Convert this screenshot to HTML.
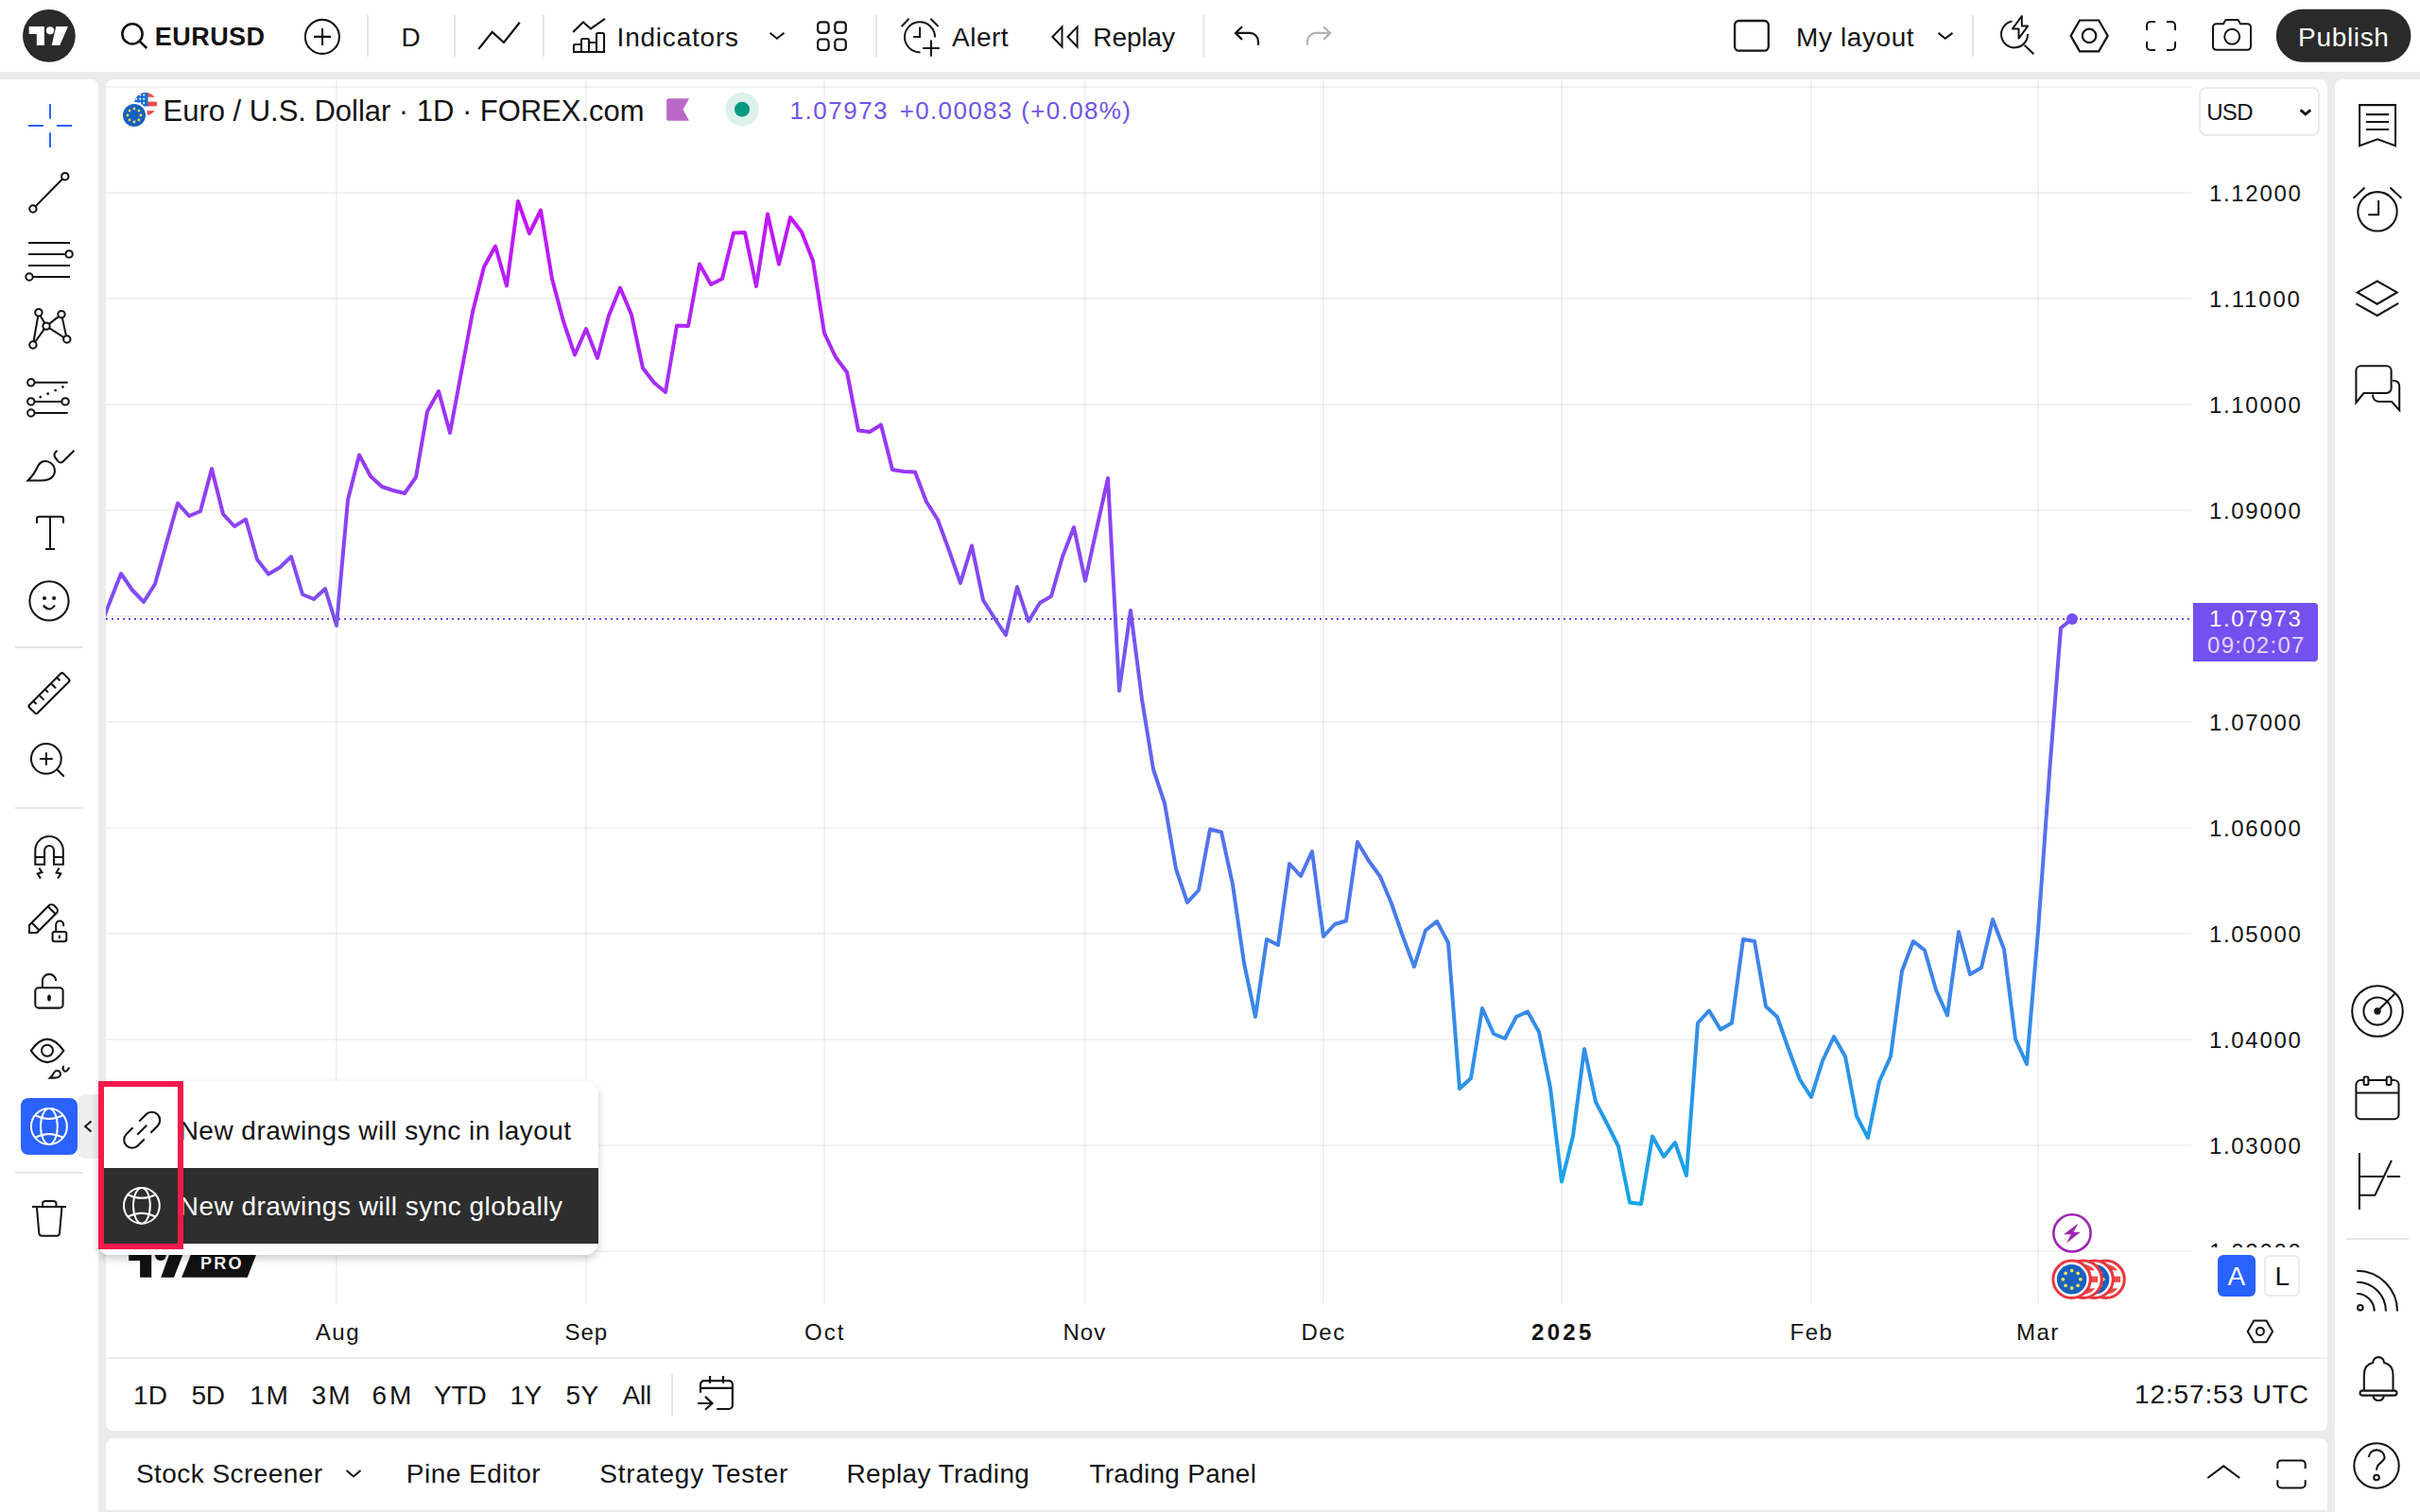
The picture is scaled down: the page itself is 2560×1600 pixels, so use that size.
<!DOCTYPE html>
<html lang="en"><head><meta charset="utf-8"><title>EURUSD chart</title>
<style>
html,body{margin:0;padding:0;}
body{width:2560px;height:1600px;overflow:hidden;background:#EBEBEB;position:relative;font-family:"Liberation Sans",sans-serif;}
.abs{position:absolute;}
.t{position:absolute;white-space:nowrap;line-height:1;}
svg{position:absolute;overflow:visible;}
#top{left:0;top:0;width:2560px;height:76px;background:#fff;}
#left{left:0;top:84px;width:104px;height:1516px;background:#fff;border-top-right-radius:8px;}
#right{left:2470px;top:84px;width:90px;height:1516px;background:#fff;border-top-left-radius:8px;}
#chart{left:112px;top:84px;width:2350px;height:1430px;background:#fff;border-radius:8px;}
#bottom{left:112px;top:1522px;width:2350px;height:76px;background:#fff;border-radius:8px 8px 0 0;}
.sep{position:absolute;background:#E6E6E6;}
#popup{left:104px;top:1144px;width:529px;height:184px;background:#fff;border-radius:12px 14px 14px 12px;box-shadow:0 4px 8px rgba(0,0,0,0.2);z-index:20;}
#popup .row2{position:absolute;left:0;top:92px;width:529px;height:80px;background:#2E2E2E;}
#redbox{left:104px;top:1144px;width:90px;height:178px;box-sizing:border-box;border:6px solid #F5184A;z-index:32;}
</style></head><body>
<div class="abs" id="top"></div>
<div class="abs" id="left"></div>
<div class="abs" id="right"></div>
<div class="abs" id="chart"></div>
<div class="abs" id="bottom"></div>

<!-- chart drawing -->
<svg id="chartsvg" width="2560" height="1600" viewBox="0 0 2560 1600" style="left:0;top:0;">
<defs>
<linearGradient id="lg" gradientUnits="userSpaceOnUse" x1="0" y1="213" x2="0" y2="1274">
<stop offset="0" stop-color="#C414FC"/><stop offset="1" stop-color="#15A6E6"/>
</linearGradient>
<clipPath id="cp"><rect x="112" y="84" width="2206" height="1296"/></clipPath>
</defs>
<rect x="112" y="91" width="2206" height="2" fill="rgba(0,0,0,0.052)"/><rect x="112" y="203" width="2206" height="2" fill="rgba(0,0,0,0.052)"/><rect x="112" y="315" width="2206" height="2" fill="rgba(0,0,0,0.052)"/><rect x="112" y="427" width="2206" height="2" fill="rgba(0,0,0,0.052)"/><rect x="112" y="539" width="2206" height="2" fill="rgba(0,0,0,0.052)"/><rect x="112" y="651" width="2206" height="2" fill="rgba(0,0,0,0.052)"/><rect x="112" y="763" width="2206" height="2" fill="rgba(0,0,0,0.052)"/><rect x="112" y="875" width="2206" height="2" fill="rgba(0,0,0,0.052)"/><rect x="112" y="987" width="2206" height="2" fill="rgba(0,0,0,0.052)"/><rect x="112" y="1099" width="2206" height="2" fill="rgba(0,0,0,0.052)"/><rect x="112" y="1211" width="2206" height="2" fill="rgba(0,0,0,0.052)"/><rect x="112" y="1323" width="2206" height="2" fill="rgba(0,0,0,0.052)"/><rect x="355" y="84" width="2" height="1296" fill="rgba(0,0,0,0.052)"/><rect x="619" y="84" width="2" height="1296" fill="rgba(0,0,0,0.052)"/><rect x="871" y="84" width="2" height="1296" fill="rgba(0,0,0,0.052)"/><rect x="1147" y="84" width="2" height="1296" fill="rgba(0,0,0,0.052)"/><rect x="1399" y="84" width="2" height="1296" fill="rgba(0,0,0,0.052)"/><rect x="1651" y="84" width="2" height="1296" fill="rgba(0,0,0,0.052)"/><rect x="1915" y="84" width="2" height="1296" fill="rgba(0,0,0,0.052)"/><rect x="2155" y="84" width="2" height="1296" fill="rgba(0,0,0,0.052)"/>
<rect x="112" y="1436" width="2350" height="2" fill="#EDEDED"/>
<g clip-path="url(#cp)">
<path d="M104 668.75 L116 637.5 L128 607 L140 624.5 L152 637 L164 618 L176 575 L188 532.5 L200 546 L212 541 L224 496 L236 544 L248 557 L260 549.5 L272 592 L284 607.5 L296 600.5 L308 589 L320 629 L332 634 L344 623 L356 662 L368 529 L380 481.5 L392 504 L404 515 L416 519 L428 522 L440 505 L452 435.5 L464 414 L476 458 L488 394 L500 330 L512 282.5 L524 260.5 L536 302.5 L548 213 L560 247 L572 222.5 L584 295 L596 340 L608 375.5 L620 348 L632 379 L644 334 L656 304.5 L668 333 L680 389.5 L692 405 L704 415 L716 344.5 L728 345 L740 279.5 L752 301 L764 295 L776 246.5 L788 246 L800 303 L812 226.5 L824 279.5 L836 230 L848 245.5 L860 276 L872 352.5 L884 378 L896 394 L908 455.5 L920 457 L932 449.5 L944 497 L956 499 L968 499.5 L980 531 L992 550 L1004 582.5 L1016 617 L1028 577.5 L1040 635 L1052 654 L1064 672 L1076 621 L1088 657.5 L1100 638 L1112 631 L1124 589 L1136 558 L1148 614.5 L1160 560 L1172 506 L1184 731 L1196 646 L1208 740 L1220 814 L1232 850 L1244 919.5 L1256 955 L1268 942 L1280 877.5 L1292 880.5 L1304 936 L1316 1019 L1328 1076 L1340 994 L1352 1000 L1364 914 L1376 927 L1388 901 L1400 991 L1412 978 L1424 974.5 L1436 891 L1448 911 L1460 927.5 L1472 956 L1484 991 L1496 1023 L1508 984.5 L1520 975 L1532 997.5 L1544 1152 L1556 1141 L1568 1067 L1580 1094 L1592 1099 L1604 1076 L1616 1070.5 L1628 1092 L1640 1151 L1652 1250.5 L1664 1202 L1676 1110 L1688 1166 L1700 1189 L1712 1213 L1724 1272.5 L1736 1274 L1748 1202.5 L1760 1224 L1772 1209 L1784 1244 L1796 1082.5 L1808 1069.5 L1820 1089.5 L1832 1082.5 L1844 994 L1856 996 L1868 1065 L1880 1076 L1892 1110 L1904 1142.5 L1916 1161 L1928 1122.5 L1940 1097 L1952 1118 L1964 1181 L1976 1204 L1988 1144.5 L2000 1118 L2012 1027.5 L2024 996 L2036 1005.5 L2048 1047.5 L2060 1074.5 L2072 986 L2084 1031 L2096 1024 L2108 973 L2120 1004.5 L2132 1099.5 L2144 1126 L2156 985 L2168 818 L2180 664.5 L2192 655" fill="none" stroke="url(#lg)" stroke-width="4" stroke-linejoin="round" stroke-linecap="round"/>
</g>
<line x1="112" y1="655" x2="2320" y2="655" stroke="#6B4EE6" stroke-width="2" stroke-dasharray="2 4"/>
<circle cx="2192" cy="655" r="6" fill="#7450EE"/>
</svg>

<!-- price axis cover + label -->
<div class="abs" style="left:2320px;top:1320px;width:142px;height:60px;background:#fff;z-index:2;"></div>
<div class="abs" style="left:2320px;top:638px;width:132px;height:62px;background:#7450EE;border-radius:0 4px 4px 0;z-index:2;"></div>
<div class="abs" style="left:2326px;top:92px;width:128px;height:52px;border:2px solid #EBEBEB;border-radius:8px;box-sizing:border-box;background:#fff;"></div>
<div class="abs" style="left:2346px;top:1328px;width:40px;height:44px;background:#2962FF;border-radius:6px;z-index:2;"></div>
<div class="abs" style="left:2395px;top:1328px;width:38px;height:44px;background:#fff;border:2px solid #EBEBEB;box-sizing:border-box;border-radius:6px;z-index:2;"></div>

<svg style="left:0px;top:0px;" width="2560" height="76" viewBox="0 0 2560 76"><circle cx="51.9" cy="37.9" r="27.9" fill="#2A2A2A"/><path d="M30.7 27.9H46.9V48H38.8V36.1H30.7Z" fill="#fff"/><circle cx="53" cy="32.3" r="4.1" fill="#fff"/><path d="M59.3 27.9H71.9L63.3 48H54.7Z" fill="#fff"/><g fill="none" stroke="#131313" stroke-width="2.6" ><circle cx="140" cy="35.9" r="10.6"/><path d="M147.6 43.6L155.3 51"/></g><g fill="none" stroke="#131313" stroke-width="2.1" ><circle cx="340.9" cy="38.9" r="18"/><path d="M332 38.9H350M341 30V47.9"/></g><rect x="388" y="16" width="2" height="44" fill="#E6E6E6"/><rect x="480" y="16" width="2" height="44" fill="#E6E6E6"/><rect x="574" y="16" width="2" height="44" fill="#E6E6E6"/><rect x="926" y="16" width="2" height="44" fill="#E6E6E6"/><rect x="1272.3" y="16" width="2" height="44" fill="#E6E6E6"/><rect x="2086" y="16" width="2" height="44" fill="#E6E6E6"/><g fill="none" stroke="#131313" stroke-width="2.2" stroke-linejoin="miter"><path d="M506.2 51.9L520.7 33.9L533 45L549.8 23.8"/></g><g fill="none" stroke="#131313" stroke-width="2.1" ><path d="M606.2 33.9L616.9 23.5L624.9 30.4L639.9 19.9"/><path d="M607 55V48.5A1.5 1.5 0 0 1 608.5 47H615V42.5A1.5 1.5 0 0 1 616.5 41H621.5A1.5 1.5 0 0 1 623 42.5V45H631V36.5A1.5 1.5 0 0 1 632.5 35H637.5A1.5 1.5 0 0 1 639 36.5V55ZM615 47V55M623 45V55M631 45V55"/></g><g fill="none" stroke="#131313" stroke-width="2.05" ><path d="M814.5 34.7L821.9 40.8L829.5 34.7"/></g><g fill="none" stroke="#131313" stroke-width="2.2" ><rect x="865.1" y="23.3" width="11.5" height="11.5" rx="3.2"/><rect x="865.1" y="41.5" width="11.5" height="11.5" rx="3.2"/><rect x="883.3" y="23.3" width="11.5" height="11.5" rx="3.2"/><rect x="883.3" y="41.5" width="11.5" height="11.5" rx="3.2"/></g><g fill="none" stroke="#131313" stroke-width="2" ><path d="M989 39.5A16 16 0 1 0 973.5 55.3"/><path d="M973.1 28.4V39.1H966.1"/><path d="M953.7 28L961.6 19.7M984.3 19.7L992.6 28"/><path d="M976.2 51.1H993.8M985 42.4V59.8"/></g><g fill="none" stroke="#131313" stroke-width="2" stroke-linejoin="miter"><path d="M1113.4 38.95L1123.5 28.4V49.5ZM1129.5 38.95L1139.6 28.4V49.5Z"/></g><g fill="none" stroke="#131313" stroke-width="2.2" ><path d="M1314 28.2L1307 34.9L1314 41.9M1307.5 34.9H1322A9 9 0 0 1 1331 43.9V47.7"/></g><g fill="none" stroke="#B2B2B2" stroke-width="2.2" ><path d="M1400.2 28.2L1407.2 34.9L1400.2 41.9M1406.7 34.9H1392A9 9 0 0 0 1383 43.9V47.7"/></g><g fill="none" stroke="#131313" stroke-width="2.3" ><rect x="1835.1" y="22" width="35.7" height="31.7" rx="4.5"/></g><g fill="none" stroke="#131313" stroke-width="2.05" ><path d="M2050.5 34.9L2057.7 40.8L2065.5 34.9"/></g><g fill="none" stroke="#131313" stroke-width="2" ><path d="M2128.5 22.6A14 14 0 1 0 2145 36"/><path d="M2141.4 47.6L2151.4 57.2"/><path d="M2138.8 17L2129 30.4H2135.5V40.6L2145.2 27.6H2138.8Z" stroke-linejoin="round"/></g><g fill="none" stroke="#131313" stroke-width="2.2" ><path d="M2190.6 37.9L2200 21.5H2220.2L2229.7 37.9L2220.2 54.3H2200Z"/><circle cx="2210.1" cy="37.9" r="7.2"/></g><g fill="none" stroke="#131313" stroke-width="2" ><path d="M2271 32V27A4 4 0 0 1 2275 23H2280M2292 23H2297A4 4 0 0 1 2301 27V32M2301 44V49A4 4 0 0 1 2297 53H2292M2280 53H2275A4 4 0 0 1 2271 49V44"/></g><g fill="none" stroke="#131313" stroke-width="2" ><path d="M2344.5 25.2H2352L2354 21.8A1.6 1.6 0 0 1 2355.4 21H2366.6A1.6 1.6 0 0 1 2368 21.8L2370 25.2H2377.5A3.5 3.5 0 0 1 2381 28.7V49.2A3.5 3.5 0 0 1 2377.5 52.7H2344.5A3.5 3.5 0 0 1 2341 49.2V28.7A3.5 3.5 0 0 1 2344.5 25.2Z"/><circle cx="2361.2" cy="38.8" r="8"/></g><rect x="2407.8" y="9.8" width="142.6" height="56" rx="28" fill="#2A2A2A"/></svg>
<svg style="left:0px;top:84px;" width="112" height="1516" viewBox="0 84 112 1516"><g fill="none" stroke="#2962FF" stroke-width="2" ><path d="M53 110V125.8M53 140.3V156M30 133H46M60 133H76"/></g><g fill="none" stroke="#131313" stroke-width="2.05" ><circle cx="68.8" cy="186.7" r="3.7"/><circle cx="34.9" cy="221" r="3.7"/><path d="M37.5 218.4L66.2 189.3"/></g><g fill="none" stroke="#131313" stroke-width="2.05" ><path d="M30 256.9H74M30 268.9H69.4M30 280.9H74M34.7 293H74"/><circle cx="73.1" cy="268.9" r="3.7" fill="#fff"/><circle cx="31" cy="293" r="3.7" fill="#fff"/></g><g fill="none" stroke="#131313" stroke-width="2.05" ><path d="M40.9 330.7L34.9 365L49 345.1ZM49 345.1L65 332.6L70.8 359Z"/><circle cx="40.9" cy="330.7" r="3.7" fill="#fff"/><circle cx="65" cy="332.6" r="3.7" fill="#fff"/><circle cx="49" cy="345.1" r="3.7" fill="#fff"/><circle cx="70.8" cy="359" r="3.7" fill="#fff"/><circle cx="34.9" cy="365" r="3.7" fill="#fff"/></g><g fill="none" stroke="#131313" stroke-width="2.05" ><path d="M36.5 404.8H71.7M36.5 424.9H65.4M36.5 437H71.7"/><path d="M41.6 420.6L67.6 409" stroke-dasharray="2.4 6.3" stroke-width="2.4"/><circle cx="32.8" cy="404.8" r="3.7" fill="#fff"/><circle cx="32.8" cy="424.9" r="3.7" fill="#fff"/><circle cx="69.1" cy="424.9" r="3.7" fill="#fff"/><circle cx="32.8" cy="437" r="3.7" fill="#fff"/></g><g fill="none" stroke="#131313" stroke-width="2.05" ><path d="M29.5 508.5C35 503 38 498 40 493.5C42.5 488 48.5 486.5 53 489.5C58.5 493 59.5 500 55.5 504.5C52 508.5 47 508.5 43 508.5Z" stroke-linejoin="miter"/><path d="M60.6 476.8C57.2 479 56.6 482 58.6 484.5L61.5 488.2C63 490 65 490 66.5 488.5L78.5 476.8"/></g><g fill="none" stroke="#131313" stroke-width="2.05" ><path d="M39 553.7V549A2.2 2.2 0 0 1 41.2 546.8H64.8A2.2 2.2 0 0 1 67 549V553.7M53 546.8V581M48.1 581H58"/></g><g fill="none" stroke="#131313" stroke-width="2.05" ><circle cx="52" cy="635.9" r="20.6"/><path d="M45.8 640.5Q52 648.5 58.1 640.5"/><circle cx="47" cy="632.9" r="2" fill="#131313" stroke="none"/><circle cx="57.1" cy="632.9" r="2" fill="#131313" stroke="none"/></g><rect x="16" y="684" width="72" height="2" fill="#E6E6E6"/><g fill="none" stroke="#131313" stroke-width="2.05" ><g transform="translate(52 733.7) rotate(-45)"><rect x="-25.4" y="-6.1" width="50.8" height="12.2" rx="2"/><path d="M-17.6 -6.1V-1.5M-8.8 -6.1V1M0 -6.1V-1.5M8.8 -6.1V1M17.6 -6.1V-1.5"/></g></g><g fill="none" stroke="#131313" stroke-width="2.05" ><circle cx="48.85" cy="802.9" r="15.9"/><path d="M42.1 802.9H55.8M48.9 796.2V809.7M60.3 814.3L67.8 821.7"/></g><rect x="16" y="854" width="72" height="2" fill="#E6E6E6"/><g fill="none" stroke="#131313" stroke-width="2.05" ><path d="M37.3 914.8V899.8A14.75 14.75 0 0 1 66.8 899.8V914.8H57V900A4.95 4.95 0 0 0 47.1 900V914.8ZM37.3 906.9H47.1M57 906.9H66.8" stroke-linejoin="miter"/><path d="M41.4 918.5L44.4 923.1L39.8 924.5L43 929.6M62.5 918.5L59.7 923.6L64.3 924.5L61.1 929.6" stroke-linejoin="miter"/></g><g fill="none" stroke="#131313" stroke-width="2.05" ><g transform="translate(31 987) rotate(-45)"><path d="M0 0L5.65 -5.65H34.9A4 4 0 0 1 38.9 -1.65V1.65A4 4 0 0 1 34.9 5.65H5.65ZM9.3 -5.65V5.65M33.6 -5.65V5.65" stroke-linejoin="miter"/></g><rect x="55.6" y="985.9" width="14.7" height="10.3" rx="2.2"/><path d="M59.2 985.5V978.5A4 4 0 0 1 67.2 978.5V980.2M62.9 989.8V993.2"/></g><g fill="none" stroke="#131313" stroke-width="2.05" ><rect x="37.3" y="1045.2" width="29.3" height="21.4" rx="3.6"/><path d="M44.9 1045V1038A7.15 7.15 0 0 1 59.2 1038"/><ellipse cx="52" cy="1056" rx="1.9" ry="3.6" fill="#131313" stroke="none"/></g><g fill="none" stroke="#131313" stroke-width="2.05" ><path d="M32.8 1111.8Q50 1087.4 67.3 1111.8Q50 1136.4 32.8 1111.8Z" stroke-linejoin="miter"/><circle cx="50" cy="1111.8" r="6"/><path d="M53 1140.6C56 1138 56.5 1136 57.5 1134.5C59 1132.5 61.5 1132.5 63 1134C64.5 1135.6 64.3 1138 62.5 1139.5C61 1140.6 59 1140.6 57 1140.6Z" stroke-linejoin="miter"/><path d="M67.6 1127.9C66 1129.5 66.5 1131.5 67.6 1132.8C68.6 1134 69.8 1134 70.8 1132.8L73.6 1129.6"/></g><rect x="82" y="1158" width="30" height="68" rx="8" fill="#EFEFEF"/><rect x="22" y="1162" width="60" height="60" rx="8" fill="#2962FF"/><g fill="none" stroke="#fff" stroke-width="2" ><circle cx="51.9" cy="1191.9" r="19"/><ellipse cx="51.9" cy="1191.9" rx="8.9" ry="19"/><path d="M37.0 1180.1 Q51.9 1187.7 66.8 1180.1"/><path d="M37.0 1203.7 Q51.9 1196.1 66.8 1203.7"/></g><g fill="none" stroke="#131313" stroke-width="2.05" ><path d="M96.5 1186.5L90.1 1191.9L96.5 1197.5"/></g><rect x="16" y="1240" width="72" height="2" fill="#E6E6E6"/><g fill="none" stroke="#131313" stroke-width="2.05" ><path d="M34 1277H70M45 1277V1274A3 3 0 0 1 48 1271H56.5A3 3 0 0 1 59.5 1274V1277M38.9 1277L41.3 1305A3 3 0 0 0 44.3 1307.7H60A3 3 0 0 0 63 1305L65.5 1277"/></g></svg>
<svg style="left:2470px;top:84px;" width="90" height="1516" viewBox="2470 84 90 1516"><g fill="none" stroke="#131313" stroke-width="2.05" ><path d="M2496.1 111.1H2534V154.2L2515 147.4L2496.1 154.2ZM2503 121.1H2527M2503 129H2527M2503 137H2527" stroke-linejoin="miter"/></g><g fill="none" stroke="#131313" stroke-width="2.05" ><circle cx="2515" cy="223.8" r="20.7"/><path d="M2516.1 211.9V227.2H2505.2M2489.6 209.8L2501.5 198.4M2528.4 198.4L2540.4 209.8"/></g><g fill="none" stroke="#131313" stroke-width="2.05" ><path d="M2514.7 297.5L2535.7 309.4L2514.7 321.7L2493.7 309.4ZM2492.2 321.3L2514.7 334L2537.2 320.9" stroke-linejoin="miter"/></g><g fill="none" stroke="#131313" stroke-width="2.05" ><path d="M2510 417.6C2510 422 2512.5 425 2516.5 425H2530L2538.2 434V409C2538.2 405 2535.5 402.8 2531 402.8"/><path d="M2492.4 426V392.3A5 5 0 0 1 2497.4 387.3H2524.6A5 5 0 0 1 2529.6 392.3V411A5 5 0 0 1 2524.6 416H2500.5Z" fill="#fff" stroke-linejoin="miter"/></g><g fill="none" stroke="#131313" stroke-width="2.05" ><circle cx="2515" cy="1070" r="26.8"/><circle cx="2515" cy="1070" r="14.6"/><path d="M2515 1070L2534.3 1050.6"/><circle cx="2515" cy="1070" r="3.7" fill="#131313" stroke="none"/></g><g fill="none" stroke="#131313" stroke-width="2.05" ><rect x="2492.4" y="1143" width="45.1" height="41.3" rx="5"/><path d="M2492.4 1156.5H2537.5"/><rect x="2500.6" y="1139.5" width="4.8" height="8.5" rx="1.2" fill="#fff"/><rect x="2524.7" y="1139.5" width="4.8" height="8.5" rx="1.2" fill="#fff"/></g><g fill="none" stroke="#131313" stroke-width="2.05" ><path d="M2495.9 1220.1V1280M2496 1245H2521M2525 1245H2539.1M2496 1264.8H2512.4L2529.9 1228"/></g><rect x="2482" y="1310" width="66" height="2" fill="#E6E6E6"/><g fill="none" stroke="#131313" stroke-width="2.05" ><circle cx="2496.8" cy="1383.8" r="2.8"/><path d="M2493.2 1369A18.5 18.5 0 0 1 2511.7 1387.5M2493.2 1356.8A30.7 30.7 0 0 1 2523.9 1387.5M2493.2 1344.7A42.8 42.8 0 0 1 2536 1387.5"/></g><g fill="none" stroke="#131313" stroke-width="2.05" ><path d="M2500.8 1471.5V1455C2500.8 1447 2505 1443.2 2510.2 1442A5.9 5.9 0 0 1 2522 1442C2527.2 1443.2 2531.5 1447 2531.5 1455V1471.5"/><rect x="2496.5" y="1471.6" width="39" height="5" rx="2.5"/><path d="M2510.5 1477.5A5.8 5.8 0 0 0 2521.8 1477.5"/></g><g fill="none" stroke="#131313" stroke-width="2.05" ><circle cx="2514" cy="1551" r="23.7"/><path d="M2505.7 1541.9A8.5 8.5 0 0 1 2522.6 1542C2522.6 1547.5 2514 1547.5 2514 1555.7"/><circle cx="2514" cy="1563.5" r="2.8"/></g></svg>
<svg style="left:0px;top:0px;z-index:5;" width="2560" height="1600" viewBox="0 0 2560 1600"><clipPath id="cu0"><circle cx="154" cy="110" r="12"/></clipPath><g clip-path="url(#cu0)"><rect x="142" y="98" width="24" height="24" fill="#fff"/><rect x="142" y="98.0" width="24" height="4.8" fill="#EF4B47"/><rect x="142" y="107.6" width="24" height="4.8" fill="#EF4B47"/><rect x="142" y="117.2" width="24" height="4.8" fill="#EF4B47"/><rect x="142" y="98" width="14.6" height="14.4" fill="#1D6FD1"/><circle cx="144.2" cy="100.4" r="1" fill="#fff"/><circle cx="144.2" cy="104.7" r="1" fill="#fff"/><circle cx="144.2" cy="109.0" r="1" fill="#fff"/><circle cx="148.2" cy="100.4" r="1" fill="#fff"/><circle cx="148.2" cy="104.7" r="1" fill="#fff"/><circle cx="148.2" cy="109.0" r="1" fill="#fff"/><circle cx="152.2" cy="100.4" r="1" fill="#fff"/><circle cx="152.2" cy="104.7" r="1" fill="#fff"/><circle cx="152.2" cy="109.0" r="1" fill="#fff"/></g><circle cx="142" cy="122" r="14" fill="#fff"/><circle cx="142" cy="122" r="12" fill="#1A60BF"/><circle cx="142.0" cy="115.0" r="1.4" fill="#F3E15A"/><circle cx="146.9" cy="117.1" r="1.4" fill="#F3E15A"/><circle cx="149.0" cy="122.0" r="1.4" fill="#F3E15A"/><circle cx="146.9" cy="126.9" r="1.4" fill="#F3E15A"/><circle cx="142.0" cy="129.0" r="1.4" fill="#F3E15A"/><circle cx="137.1" cy="126.9" r="1.4" fill="#F3E15A"/><circle cx="135.0" cy="122.0" r="1.4" fill="#F3E15A"/><circle cx="137.1" cy="117.1" r="1.4" fill="#F3E15A"/><path d="M707 104.3H729L722.5 116L729 127.8H707A1.8 1.8 0 0 1 705.2 126V106.1A1.8 1.8 0 0 1 707 104.3Z" fill="#BA68C8"/><circle cx="785" cy="115.7" r="17.7" fill="#DDF1EC"/><circle cx="785" cy="115.7" r="8" fill="#089981"/><g fill="none" stroke="#131313" stroke-width="2.8" ><path d="M2433.6 116.4L2438.9 120.9L2444.2 116.4"/></g><path d="M136.2 1321.8H160.2V1351.8H148.1V1334H136.2Z" fill="#111"/><circle cx="169.9" cy="1327.9" r="6" fill="#111"/><path d="M181.2 1321.8H195.7L184 1351.8H170.2Z" fill="#111"/><path d="M204.2 1321.8H273.4L261.7 1351.8H192.2Z" fill="#111"/><circle cx="2192" cy="1304.9" r="19.6" fill="#fff" stroke="#9C27B0" stroke-width="2.6"/><path d="M2198.5 1294.5L2183 1306.2H2190.8L2186 1315.5L2201 1303.8H2193.4Z" fill="#9C27B0"/><circle cx="2227.6" cy="1353.8" r="19.7" fill="#fff" stroke="#E9353F" stroke-width="3"/><clipPath id="cf0"><circle cx="2227.6" cy="1353.8" r="15.8"/></clipPath><g clip-path="url(#cf0)"><rect x="2211.7999999999997" y="1338.0" width="31.6" height="31.6" fill="#fff"/><rect x="2211.7999999999997" y="1338.0" width="31.6" height="6.3" fill="#EF4B47"/><rect x="2211.7999999999997" y="1350.6" width="31.6" height="6.3" fill="#EF4B47"/><rect x="2211.7999999999997" y="1363.3" width="31.6" height="6.3" fill="#EF4B47"/><rect x="2211.7999999999997" y="1338.0" width="19.3" height="19.0" fill="#1D6FD1"/><circle cx="2214.0" cy="1340.4" r="1" fill="#fff"/><circle cx="2214.0" cy="1344.7" r="1" fill="#fff"/><circle cx="2214.0" cy="1349.0" r="1" fill="#fff"/><circle cx="2218.0" cy="1340.4" r="1" fill="#fff"/><circle cx="2218.0" cy="1344.7" r="1" fill="#fff"/><circle cx="2218.0" cy="1349.0" r="1" fill="#fff"/><circle cx="2222.0" cy="1340.4" r="1" fill="#fff"/><circle cx="2222.0" cy="1344.7" r="1" fill="#fff"/><circle cx="2222.0" cy="1349.0" r="1" fill="#fff"/></g><circle cx="2215.6" cy="1353.8" r="19.7" fill="#fff" stroke="#E9353F" stroke-width="3"/><circle cx="2215.6" cy="1353.8" r="15.8" fill="#1A60BF"/><circle cx="2215.6" cy="1344.6" r="1.9" fill="#F3E15A"/><circle cx="2222.1" cy="1347.3" r="1.9" fill="#F3E15A"/><circle cx="2224.8" cy="1353.8" r="1.9" fill="#F3E15A"/><circle cx="2222.1" cy="1360.3" r="1.9" fill="#F3E15A"/><circle cx="2215.6" cy="1363.0" r="1.9" fill="#F3E15A"/><circle cx="2209.1" cy="1360.3" r="1.9" fill="#F3E15A"/><circle cx="2206.4" cy="1353.8" r="1.9" fill="#F3E15A"/><circle cx="2209.1" cy="1347.3" r="1.9" fill="#F3E15A"/><circle cx="2203.6" cy="1353.8" r="19.7" fill="#fff" stroke="#E9353F" stroke-width="3"/><clipPath id="cf2"><circle cx="2203.6" cy="1353.8" r="15.8"/></clipPath><g clip-path="url(#cf2)"><rect x="2187.7999999999997" y="1338.0" width="31.6" height="31.6" fill="#fff"/><rect x="2187.7999999999997" y="1338.0" width="31.6" height="6.3" fill="#EF4B47"/><rect x="2187.7999999999997" y="1350.6" width="31.6" height="6.3" fill="#EF4B47"/><rect x="2187.7999999999997" y="1363.3" width="31.6" height="6.3" fill="#EF4B47"/><rect x="2187.7999999999997" y="1338.0" width="19.3" height="19.0" fill="#1D6FD1"/><circle cx="2190.0" cy="1340.4" r="1" fill="#fff"/><circle cx="2190.0" cy="1344.7" r="1" fill="#fff"/><circle cx="2190.0" cy="1349.0" r="1" fill="#fff"/><circle cx="2194.0" cy="1340.4" r="1" fill="#fff"/><circle cx="2194.0" cy="1344.7" r="1" fill="#fff"/><circle cx="2194.0" cy="1349.0" r="1" fill="#fff"/><circle cx="2198.0" cy="1340.4" r="1" fill="#fff"/><circle cx="2198.0" cy="1344.7" r="1" fill="#fff"/><circle cx="2198.0" cy="1349.0" r="1" fill="#fff"/></g><circle cx="2191.6" cy="1353.8" r="19.7" fill="#fff" stroke="#E9353F" stroke-width="3"/><circle cx="2191.6" cy="1353.8" r="15.8" fill="#1A60BF"/><circle cx="2191.6" cy="1344.6" r="1.9" fill="#F3E15A"/><circle cx="2198.1" cy="1347.3" r="1.9" fill="#F3E15A"/><circle cx="2200.8" cy="1353.8" r="1.9" fill="#F3E15A"/><circle cx="2198.1" cy="1360.3" r="1.9" fill="#F3E15A"/><circle cx="2191.6" cy="1363.0" r="1.9" fill="#F3E15A"/><circle cx="2185.1" cy="1360.3" r="1.9" fill="#F3E15A"/><circle cx="2182.4" cy="1353.8" r="1.9" fill="#F3E15A"/><circle cx="2185.1" cy="1347.3" r="1.9" fill="#F3E15A"/><g fill="none" stroke="#131313" stroke-width="2" ><path d="M2377.7 1408.9L2384.3 1397.5H2397.5L2404.1 1408.9L2397.5 1420.3H2384.3Z"/><circle cx="2390.9" cy="1408.9" r="4"/></g><rect x="710" y="1454" width="2" height="44" fill="#E6E6E6"/><g fill="none" stroke="#131313" stroke-width="2.2" ><path d="M741 1473.7V1465.1A4 4 0 0 1 745 1461.1H770.9A4 4 0 0 1 774.9 1465.1V1487A4 4 0 0 1 770.9 1491H758.2M741 1468.9H774.9M751 1456.1V1463.8M765 1456.1V1463.8M738.1 1485H753M746 1477.9L753.5 1485L746 1491.8"/></g><g fill="none" stroke="#131313" stroke-width="2.05" ><path d="M366.5 1556L374 1562.5L381.5 1556"/></g><g fill="none" stroke="#131313" stroke-width="2.05" ><path d="M2335.3 1564L2352.3 1551.4L2369.2 1564"/></g><g fill="none" stroke="#131313" stroke-width="2.05" ><path d="M2409.3 1553.9V1549.4A4 4 0 0 1 2413.3 1545.4H2434.7A4 4 0 0 1 2438.7 1549.4V1553.9M2409.3 1566.2V1570.4A4 4 0 0 0 2413.3 1574.4H2434.7A4 4 0 0 0 2438.7 1570.4V1566.2"/></g></svg>
<!-- popup -->
<div class="abs" id="popup"><div class="row2"></div></div>
<div class="abs" id="redbox"></div>
<svg style="left:104px;top:1140px;z-index:31;" width="540" height="200" viewBox="104 1140 540 200"><g fill="none" stroke="#131313" stroke-width="2.05" ><g transform="translate(150.2 1195.8) rotate(-45)"><path d="M-5 -8.6H-14.7A8.6 8.6 0 0 0 -14.7 8.6H-5M4.4 -8.6H14.7A8.6 8.6 0 0 1 14.7 8.6H4.4M-7.1 0H7.1"/></g></g><g fill="none" stroke="#fff" stroke-width="2" ><circle cx="149.9" cy="1275.8" r="18.9"/><ellipse cx="149.9" cy="1275.8" rx="8.9" ry="18.9"/><path d="M135.1 1264.1 Q149.9 1271.6 164.7 1264.1"/><path d="M135.1 1287.5 Q149.9 1280.0 164.7 1287.5"/></g></svg>

<span class="t" id="sym" style="left:163.7px;top:25.9px;font-size:27px;color:#131313;font-weight:700;letter-spacing:0.480px;">EURUSD</span>
<span class="t" id="tfD" style="left:424.5px;top:25.7px;font-size:28px;color:#131313;">D</span>
<span class="t" id="ind" style="left:652.6px;top:25.7px;font-size:28px;color:#131313;letter-spacing:0.778px;">Indicators</span>
<span class="t" id="alert" style="left:1007.0px;top:25.7px;font-size:28px;color:#131313;letter-spacing:0.500px;">Alert</span>
<span class="t" id="replay" style="left:1156.3px;top:25.7px;font-size:28px;color:#131313;letter-spacing:-0.080px;">Replay</span>
<span class="t" id="layout" style="left:1900.0px;top:25.7px;font-size:28px;color:#131313;letter-spacing:0.600px;">My layout</span>
<span class="t" id="publish" style="left:2431.1px;top:25.7px;font-size:28px;color:#fff;letter-spacing:0.667px;">Publish</span>
<span class="t" id="title" style="left:172.6px;top:101.6px;font-size:31px;color:#131313;letter-spacing:-0.029px;">Euro / U.S. Dollar · 1D · FOREX.com</span>
<span class="t" id="last" style="left:835.6px;top:104.3px;font-size:26px;color:#6F55E6;letter-spacing:1.500px;">1.07973</span>
<span class="t" id="chg" style="left:951.7px;top:104.3px;font-size:26px;color:#6F55E6;letter-spacing:1.350px;">+0.00083 (+0.08%)</span>
<span class="t" id="usd" style="left:2334.2px;top:106.5px;font-size:24px;color:#131313;letter-spacing:-0.700px;">USD</span>
<span class="t" id="p0" style="left:2337.0px;top:192.6px;font-size:24px;color:#131313;letter-spacing:1.667px;z-index:1;">1.12000</span>
<span class="t" id="p1" style="left:2337.0px;top:304.6px;font-size:24px;color:#131313;letter-spacing:1.833px;z-index:1;">1.11000</span>
<span class="t" id="p2" style="left:2337.0px;top:416.6px;font-size:24px;color:#131313;letter-spacing:1.667px;z-index:1;">1.10000</span>
<span class="t" id="p3" style="left:2337.0px;top:528.6px;font-size:24px;color:#131313;letter-spacing:1.667px;z-index:1;">1.09000</span>
<span class="t" id="p5" style="left:2337.0px;top:752.6px;font-size:24px;color:#131313;letter-spacing:1.667px;z-index:1;">1.07000</span>
<span class="t" id="p6" style="left:2337.0px;top:864.6px;font-size:24px;color:#131313;letter-spacing:1.667px;z-index:1;">1.06000</span>
<span class="t" id="p7" style="left:2337.0px;top:976.6px;font-size:24px;color:#131313;letter-spacing:1.667px;z-index:1;">1.05000</span>
<span class="t" id="p8" style="left:2337.0px;top:1088.6px;font-size:24px;color:#131313;letter-spacing:1.667px;z-index:1;">1.04000</span>
<span class="t" id="p9" style="left:2337.0px;top:1200.6px;font-size:24px;color:#131313;letter-spacing:1.667px;z-index:1;">1.03000</span>
<span class="t" id="p10" style="left:2337.0px;top:1312.6px;font-size:24px;color:#131313;letter-spacing:1.667px;z-index:1;">1.02000</span>
<span class="t" id="tAug" style="left:333.7px;top:1398.4px;font-size:24px;color:#131313;letter-spacing:1.600px;">Aug</span>
<span class="t" id="tSep" style="left:597.5px;top:1398.4px;font-size:24px;color:#131313;letter-spacing:1.000px;">Sep</span>
<span class="t" id="tOct" style="left:851.0px;top:1398.4px;font-size:24px;color:#131313;letter-spacing:2.000px;">Oct</span>
<span class="t" id="tNov" style="left:1124.5px;top:1398.4px;font-size:24px;color:#131313;letter-spacing:1.000px;">Nov</span>
<span class="t" id="tDec" style="left:1376.5px;top:1398.4px;font-size:24px;color:#131313;letter-spacing:1.500px;">Dec</span>
<span class="t" id="t2025" style="left:1620.0px;top:1398.4px;font-size:24px;color:#131313;font-weight:700;letter-spacing:3.333px;">2025</span>
<span class="t" id="tFeb" style="left:1893.5px;top:1398.4px;font-size:24px;color:#131313;letter-spacing:1.500px;">Feb</span>
<span class="t" id="tMar" style="left:2133.0px;top:1398.4px;font-size:24px;color:#131313;letter-spacing:1.500px;">Mar</span>
<span class="t" id="f1D" style="left:140.9px;top:1463.1px;font-size:28px;color:#131313;letter-spacing:0.200px;">1D</span>
<span class="t" id="f5D" style="left:202.4px;top:1463.1px;font-size:28px;color:#131313;letter-spacing:-0.200px;">5D</span>
<span class="t" id="f1M" style="left:264.2px;top:1463.1px;font-size:28px;color:#131313;letter-spacing:1.800px;">1M</span>
<span class="t" id="f3M" style="left:329.6px;top:1463.1px;font-size:28px;color:#131313;letter-spacing:2.100px;">3M</span>
<span class="t" id="f6M" style="left:393.4px;top:1463.1px;font-size:28px;color:#131313;letter-spacing:3.100px;">6M</span>
<span class="t" id="fYTD" style="left:458.9px;top:1463.1px;font-size:28px;color:#131313;letter-spacing:-0.050px;">YTD</span>
<span class="t" id="f1Y" style="left:539.6px;top:1463.1px;font-size:28px;color:#131313;letter-spacing:-0.600px;">1Y</span>
<span class="t" id="f5Y" style="left:598.4px;top:1463.1px;font-size:28px;color:#131313;letter-spacing:0.600px;">5Y</span>
<span class="t" id="fAll" style="left:658.6px;top:1463.1px;font-size:28px;color:#131313;letter-spacing:-0.200px;">All</span>
<span class="t" id="utc" style="left:2258.0px;top:1462.3px;font-size:28px;color:#131313;letter-spacing:0.873px;">12:57:53 UTC</span>
<span class="t" id="bStockScreener" style="left:144.0px;top:1546.3px;font-size:28px;color:#131313;letter-spacing:0.431px;">Stock Screener</span>
<span class="t" id="bPineEditor" style="left:429.8px;top:1546.3px;font-size:28px;color:#131313;letter-spacing:0.480px;">Pine Editor</span>
<span class="t" id="bStrategyTester" style="left:634.2px;top:1546.3px;font-size:28px;color:#131313;letter-spacing:0.814px;">Strategy Tester</span>
<span class="t" id="bReplayTrading" style="left:895.4px;top:1546.3px;font-size:28px;color:#131313;letter-spacing:0.400px;">Replay Trading</span>
<span class="t" id="bTradingPanel" style="left:1152.4px;top:1546.3px;font-size:28px;color:#131313;letter-spacing:0.267px;">Trading Panel</span>
<span class="t" id="pop1" style="left:189.7px;top:1182.7px;font-size:28px;color:#131313;letter-spacing:0.465px;z-index:30;">New drawings will sync in layout</span>
<span class="t" id="pop2" style="left:189.7px;top:1263.1px;font-size:28px;color:#fff;letter-spacing:0.487px;z-index:30;">New drawings will sync globally</span>
<span class="t" id="pl1" style="left:2337.0px;top:642.7px;font-size:24px;color:#fff;letter-spacing:1.667px;z-index:3;">1.07973</span>
<span class="t" id="pl2" style="left:2335.0px;top:670.7px;font-size:24px;color:#E0D6FB;letter-spacing:1.286px;z-index:3;">09:02:07</span>
<span class="t" id="pro" style="left:212.0px;top:1328.4px;font-size:18px;color:#fff;font-weight:700;letter-spacing:2.300px;z-index:6;">PRO</span>
<span class="t" id="btnA" style="left:2356.6px;top:1336.8px;font-size:28px;color:#fff;z-index:3;">A</span>
<span class="t" id="btnL" style="left:2406.4px;top:1336.8px;font-size:28px;color:#131313;z-index:3;">L</span>
</body></html>
